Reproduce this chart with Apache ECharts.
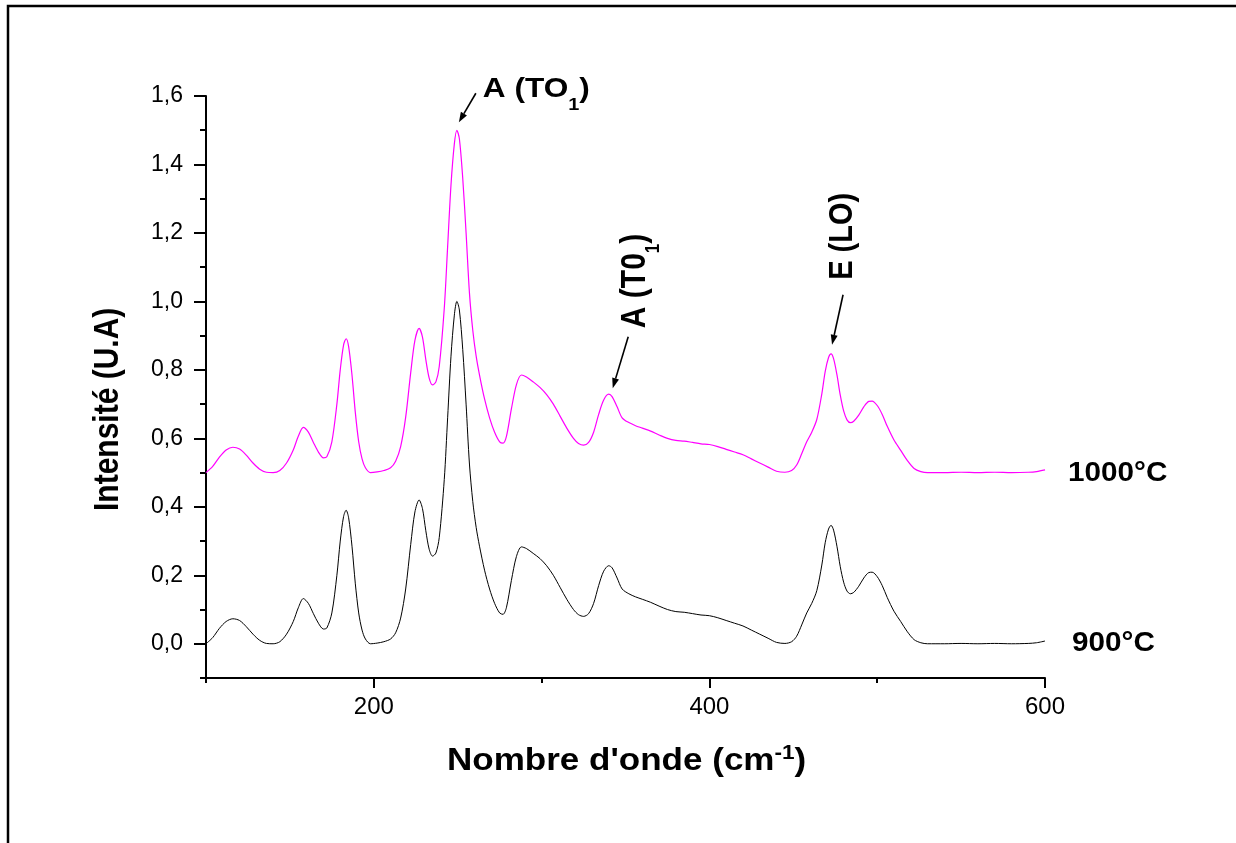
<!DOCTYPE html>
<html>
<head>
<meta charset="utf-8">
<script src="https://cdn.jsdelivr.net/npm/echarts@6/dist/echarts.min.js"></script>
<style>
  html, body { margin: 0; padding: 0; background: #fff; }
  #chart { width: 1236px; height: 843px; }
</style>
</head>
<body>
<div id="chart"></div>
<script>
// Raman spectra of the samples annealed at 900 °C and 1000 °C
const wavenumber = [
  100, 104, 108, 112, 116, 120, 124, 128, 132, 136,
  140, 144, 148, 152, 155, 158, 161, 164, 167, 170,
  172, 175, 178, 180, 182, 183.5, 185, 187, 189, 191,
  193, 195, 198, 202, 206, 210, 213, 216, 219, 222,
  224.5, 227, 229, 231, 233, 235, 237, 239, 242, 244,
  246, 248, 249.5, 251, 253, 255, 257, 259, 261, 263,
  266, 269, 272, 275, 277, 279, 282, 285, 288, 291,
  295, 299, 303, 307, 311, 315, 319, 322, 325, 328,
  331, 334, 337, 340, 342, 345, 348, 352, 356, 360,
  365, 370, 375, 380, 385, 390, 395, 400, 405, 410,
  415, 420, 425, 430, 435, 440, 445, 449, 452, 455,
  458, 461, 464, 467, 469, 471, 472.5, 474, 476, 478,
  480, 482, 484, 486, 489, 492, 495, 497, 500, 503,
  506, 510, 514, 518, 522, 526, 530, 540, 550, 560,
  570, 580, 590, 595, 600
];

const int900 = [
  0.000, 0.018, 0.045, 0.065, 0.073, 0.068, 0.050, 0.028, 0.010, 0.001,
  0.000, 0.006, 0.028, 0.065, 0.105, 0.132, 0.118, 0.088, 0.060, 0.043,
  0.046, 0.090, 0.200, 0.300, 0.372, 0.390, 0.368, 0.285, 0.175, 0.090,
  0.040, 0.014, 0.000, 0.002, 0.006, 0.014, 0.032, 0.075, 0.160, 0.290,
  0.385, 0.420, 0.395, 0.330, 0.276, 0.256, 0.265, 0.310, 0.480, 0.660,
  0.840, 0.960, 1.000, 0.975, 0.860, 0.700, 0.525, 0.415, 0.340, 0.285,
  0.215, 0.160, 0.118, 0.090, 0.086, 0.105, 0.185, 0.255, 0.283, 0.278,
  0.264, 0.249, 0.228, 0.200, 0.165, 0.130, 0.100, 0.085, 0.080, 0.088,
  0.118, 0.170, 0.212, 0.228, 0.222, 0.192, 0.160, 0.146, 0.137, 0.130,
  0.121, 0.110, 0.100, 0.094, 0.092, 0.088, 0.084, 0.082, 0.076, 0.068,
  0.060, 0.052, 0.040, 0.028, 0.016, 0.004, 0.001, 0.006, 0.022, 0.055,
  0.090, 0.118, 0.155, 0.230, 0.295, 0.335, 0.346, 0.332, 0.285, 0.225,
  0.180, 0.154, 0.146, 0.150, 0.168, 0.192, 0.208, 0.209, 0.196, 0.170,
  0.135, 0.095, 0.065, 0.035, 0.012, 0.003, 0.000, 0.000, 0.001, 0.000,
  0.001, 0.000, 0.001, 0.003, 0.008
];

const int1000 = [
  0.500, 0.518, 0.545, 0.566, 0.574, 0.569, 0.551, 0.528, 0.510, 0.501,
  0.500, 0.506, 0.528, 0.566, 0.606, 0.632, 0.618, 0.588, 0.560, 0.543,
  0.546, 0.590, 0.700, 0.800, 0.873, 0.891, 0.868, 0.785, 0.675, 0.590,
  0.540, 0.514, 0.500, 0.502, 0.506, 0.514, 0.533, 0.576, 0.662, 0.792,
  0.886, 0.921, 0.896, 0.830, 0.776, 0.756, 0.765, 0.810, 0.980, 1.160,
  1.340, 1.460, 1.500, 1.475, 1.360, 1.200, 1.025, 0.915, 0.840, 0.785,
  0.715, 0.660, 0.618, 0.590, 0.586, 0.605, 0.686, 0.757, 0.785, 0.779,
  0.765, 0.749, 0.728, 0.700, 0.665, 0.630, 0.600, 0.585, 0.580, 0.588,
  0.618, 0.670, 0.712, 0.729, 0.722, 0.692, 0.660, 0.646, 0.637, 0.630,
  0.621, 0.610, 0.600, 0.594, 0.592, 0.588, 0.584, 0.582, 0.576, 0.568,
  0.560, 0.552, 0.540, 0.528, 0.516, 0.504, 0.501, 0.506, 0.522, 0.555,
  0.590, 0.618, 0.655, 0.730, 0.795, 0.836, 0.847, 0.833, 0.786, 0.726,
  0.680, 0.654, 0.646, 0.650, 0.668, 0.692, 0.708, 0.709, 0.696, 0.670,
  0.635, 0.595, 0.565, 0.535, 0.512, 0.503, 0.500, 0.500, 0.501, 0.500,
  0.501, 0.500, 0.501, 0.503, 0.508
];

// Axis ticks (major, labelled)
const xMajorTicks = [200, 400, 600];
const yMajorTicks = [0, 0.2, 0.4, 0.6, 0.8, 1.0, 1.2, 1.4, 1.6];

// Peak assignments: [wavenumber, intensity on the 1000 °C curve]
const peakTO1 = [249.5, 1.5];
const peakT01 = [340, 0.729];
const peakELO = [472.5, 0.847];

const FONT = '"Liberation Sans", Arial, Helvetica, sans-serif';
const STRETCH = 1.17;

const chart = echarts.init(document.getElementById('chart'), null, { renderer: 'canvas' });

function pairs(xs, ys) { return xs.map((x, i) => [x, ys[i]]); }

const axisLineStyle = { color: '#000', width: 2 };

chart.setOption({
  backgroundColor: '#fff',
  animation: false,
  grid: { left: 206, right: 191, top: 96, bottom: 165, containLabel: false },
  xAxis: [
    {
      type: 'value', position: 'bottom', min: 100, max: 600, interval: 100,
      axisLine: { show: true, onZero: false, lineStyle: axisLineStyle },
      axisTick: { show: true, length: 5, lineStyle: { color: '#000', width: 2 } },
      axisLabel: { show: false },
      splitLine: { show: false }
    },
    {
      type: 'value', position: 'bottom', min: 100, max: 600, interval: 100,
      axisLine: { show: false, onZero: false },
      axisTick: { show: true, customValues: xMajorTicks, length: 10, lineStyle: { color: '#000', width: 2 } },
      axisLabel: {
        show: true, customValues: xMajorTicks, margin: 17,
        color: '#000', fontSize: 24, fontFamily: FONT
      },
      splitLine: { show: false }
    }
  ],
  yAxis: [
    {
      type: 'value', position: 'left', min: -0.1, max: 1.6, interval: 0.1,
      axisLine: { show: true, onZero: false, lineStyle: axisLineStyle },
      axisTick: { show: true, length: 6, lineStyle: { color: '#000', width: 2 } },
      axisLabel: { show: false },
      splitLine: { show: false }
    },
    {
      type: 'value', position: 'left', min: -0.1, max: 1.6, interval: 0.1,
      axisLine: { show: false, onZero: false },
      axisTick: { show: true, customValues: yMajorTicks, length: 12, lineStyle: { color: '#000', width: 2 } },
      axisLabel: {
        show: true, customValues: yMajorTicks, margin: 23,
        color: '#000', fontSize: 23, fontFamily: FONT,
        formatter: v => v.toFixed(1).replace('.', ',')
      },
      splitLine: { show: false }
    }
  ],
  series: [
    {
      name: '900°C', type: 'line', xAxisIndex: 0, yAxisIndex: 0,
      data: pairs(wavenumber, int900), showSymbol: false, smooth: 0.3,
      lineStyle: { color: '#000', width: 1 }, silent: true
    },
    {
      name: '1000°C', type: 'line', xAxisIndex: 0, yAxisIndex: 0,
      data: pairs(wavenumber, int1000), showSymbol: false, smooth: 0.3,
      lineStyle: { color: '#ff00ff', width: 1.2 }, silent: true
    }
  ]
});

// ---- text helpers -------------------------------------------------------
const measureCtx = document.createElement('canvas').getContext('2d');
function textWidth(str, size) {
  measureCtx.font = 'bold ' + size + 'px ' + FONT;
  return measureCtx.measureText(str).width;
}

// Row of text pieces along a common line (pieces may be shifted as sub/superscripts)
function textRow(pieces, x, y, rotation, stretchAlong, stretchAcross) {
  let cx = 0;
  const children = pieces.map(p => {
    const el = {
      type: 'text', x: cx, y: p.dy || 0,
      style: {
        text: p.t, fontSize: p.size, fontWeight: 'bold', fontFamily: FONT,
        fill: '#000', align: 'left', verticalAlign: 'middle',
        textAlign: 'left', textVerticalAlign: 'middle'
      }
    };
    cx += textWidth(p.t, p.size);
    return el;
  });
  return {
    type: 'group', x: x, y: y, rotation: rotation || 0,
    scaleX: stretchAlong || 1, scaleY: stretchAcross || 1,
    children: children
  };
}

function arrow(tail, tip) {
  const dx = tip[0] - tail[0], dy = tip[1] - tail[1];
  const len = Math.sqrt(dx * dx + dy * dy);
  const ux = dx / len, uy = dy / len;
  const headL = 10, headW = 3.5;
  const bx = tip[0] - ux * headL, by = tip[1] - uy * headL;
  return [
    { type: 'line', shape: { x1: tail[0], y1: tail[1], x2: bx, y2: by },
      style: { stroke: '#000', lineWidth: 1.6 } },
    { type: 'polygon',
      shape: { points: [[tip[0], tip[1]], [bx - uy * headW, by + ux * headW], [bx + uy * headW, by - ux * headW]] },
      style: { fill: '#000' } }
  ];
}

function drawDecorations() {
  const px = p => chart.convertToPixel({ xAxisIndex: 0, yAxisIndex: 0 }, p);
  const a = px(peakTO1), b = px(peakT01), c = px(peakELO);
  const end900 = px([wavenumber[wavenumber.length - 1], int900[int900.length - 1]]);
  const end1000 = px([wavenumber[wavenumber.length - 1], int1000[int1000.length - 1]]);
  const up = Math.PI / 2;

  const elements = [
    // page frame
    { type: 'rect', shape: { x: 8, y: 6, width: 1300, height: 900 },
      style: { fill: 'none', stroke: '#000', lineWidth: 2.5 } },

    // axis titles
    textRow([{ t: 'Intensité (U.A)', size: 30 }], 108, 511, up, 1, STRETCH),
    textRow([
      { t: "Nombre d'onde (cm", size: 31 },
      { t: '-1', size: 20, dy: -8 },
      { t: ')', size: 31 }
    ], 447, 761, 0, 1.13, 1),

    // peak assignments
    textRow([
      { t: 'A (TO', size: 27 }, { t: '1', size: 17, dy: 16 }, { t: ')', size: 27 }
    ], a[0] + 26, a[1] - 41, 0, STRETCH, 1),
    ...arrow([a[0] + 19, a[1] - 37], [a[0] + 2, a[1] - 8]),

    textRow([
      { t: 'A (T0', size: 30 }, { t: '1', size: 17, dy: 15 }, { t: ')', size: 30 }
    ], b[0] + 27, b[1] - 66, up, 1, STRETCH),
    ...arrow([b[0] + 19.5, b[1] - 57.5], [b[0] + 4, b[1] - 6]),

    textRow([{ t: 'E (LO)', size: 29 }], c[0] + 11.5, c[1] - 74, up, 1, STRETCH),
    ...arrow([c[0] + 12, c[1] - 59], [c[0] + 1, c[1] - 9]),

    // curve names at the end of each spectrum
    textRow([{ t: '1000°C', size: 27 }], end1000[0] + 23, end1000[1] + 3.5, 0, 1.1, 1),
    textRow([{ t: '900°C', size: 27 }], end900[0] + 27, end900[1] + 2.5, 0, 1.1, 1)
  ];

  chart.setOption({ graphic: { elements: elements } });
}

drawDecorations();
</script>
</body>
</html>
